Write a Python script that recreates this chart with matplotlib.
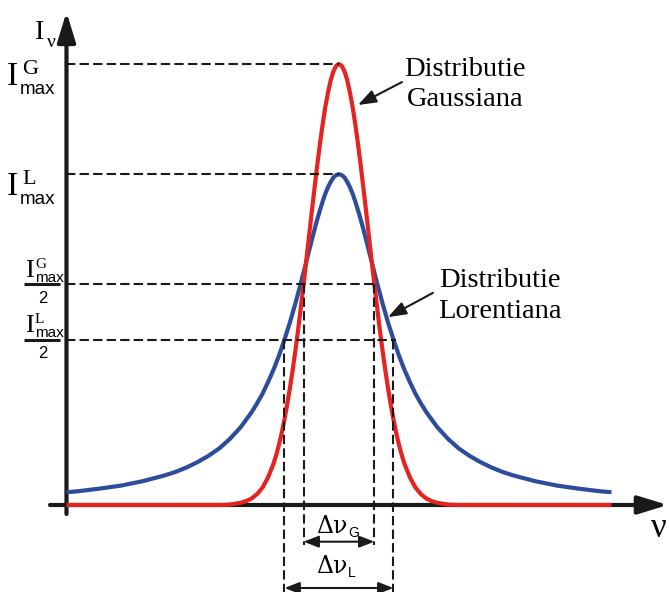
import matplotlib
matplotlib.use("Agg")
import matplotlib.pyplot as plt

# ---------------- data ----------------
# frequency axis in units of the Lorentzian FWHM, intensity in units of I_max^G
nu_gauss = [-2.5, -1.1, -1.0, -0.9, -0.85, -0.8, -0.75, -0.7, -0.65, -0.6,
            -0.575, -0.55, -0.525, -0.5, -0.475, -0.45, -0.425, -0.4, -0.375, -0.35,
            -0.325, -0.3, -0.275, -0.25, -0.225, -0.2, -0.175, -0.15, -0.125, -0.1,
            -0.075, -0.05, -0.025, 0.0,
            0.025, 0.05, 0.075,
            0.1, 0.125, 0.15, 0.175, 0.2, 0.225, 0.25, 0.275, 0.3, 0.325,
            0.35, 0.375, 0.4, 0.425, 0.45, 0.475, 0.5, 0.525, 0.55, 0.575,
            0.6, 0.65, 0.7, 0.75, 0.8, 0.85, 0.9, 1.0, 1.1, 2.5]
I_gauss = [0.0, 0.0, 0.001, 0.005, 0.009, 0.015, 0.025, 0.040, 0.063, 0.094,
           0.114, 0.137, 0.164, 0.194, 0.228, 0.265, 0.306, 0.350, 0.397, 0.448,
           0.500, 0.554, 0.609, 0.664, 0.717, 0.769, 0.818, 0.863, 0.903, 0.936,
           0.964, 0.984, 0.996, 1.000,
           0.996, 0.984, 0.964,
           0.936, 0.903, 0.863, 0.818, 0.769, 0.717, 0.664, 0.609, 0.554, 0.500,
           0.448, 0.397, 0.350, 0.306, 0.265, 0.228, 0.194, 0.164, 0.137, 0.114,
           0.094, 0.063, 0.040, 0.025, 0.015, 0.009, 0.005, 0.001, 0.0, 0.0]

nu_lorentz = [-2.5, -2.4, -2.2, -2.0, -1.8, -1.6, -1.5, -1.4, -1.3, -1.2,
              -1.1, -1.0, -0.9, -0.8, -0.75, -0.7, -0.65, -0.6, -0.55, -0.5,
              -0.45, -0.4, -0.35, -0.3, -0.275, -0.25, -0.225, -0.2, -0.175, -0.15,
              -0.125, -0.1, -0.075, -0.05, -0.025, 0.0,
              0.025, 0.05, 0.075, 0.1, 0.125,
              0.15, 0.175, 0.2, 0.225, 0.25, 0.275, 0.3, 0.35, 0.4, 0.45,
              0.5, 0.55, 0.6, 0.65, 0.7, 0.75, 0.8, 0.9, 1.0, 1.1,
              1.2, 1.3, 1.4, 1.5, 1.6, 1.8, 2.0, 2.2, 2.4, 2.5]
I_lorentz = [0.029, 0.031, 0.037, 0.044, 0.054, 0.067, 0.075, 0.085, 0.097, 0.111,
             0.128, 0.150, 0.177, 0.211, 0.231, 0.253, 0.279, 0.307, 0.339, 0.375,
             0.414, 0.457, 0.503, 0.551, 0.576, 0.600, 0.624, 0.647, 0.668, 0.688,
             0.706, 0.721, 0.733, 0.743, 0.748, 0.750,
             0.748, 0.743, 0.733, 0.721, 0.706,
             0.688, 0.668, 0.647, 0.624, 0.600, 0.576, 0.551, 0.503, 0.457, 0.414,
             0.375, 0.339, 0.307, 0.279, 0.253, 0.231, 0.211, 0.177, 0.150, 0.128,
             0.111, 0.097, 0.085, 0.075, 0.067, 0.054, 0.044, 0.037, 0.031, 0.029]

I_max_G = 1.0
I_max_L = 0.75
half_width_G = [-0.325, 0.325]   # FWHM edges of the Gaussian
half_width_L = [-0.5, 0.5]       # FWHM edges of the Lorentzian

label_distrib = "Distributie"
label_gauss = "Gaussiana"
label_lorentz = "Lorentiana"

# ---------------- style ----------------
SERIF = "Liberation Serif"
SANS = "Liberation Sans"
RED = "#e52421"
BLUE = "#2d4c9c"
BLACK = "#1a1a1a"
DASH = dict(color=BLACK, lw=1.5, linestyle=(0, (4.5, 2.0)), zorder=4)

fig = plt.figure(figsize=(6.69, 5.92), dpi=100)
ax = fig.add_axes([0, 0, 1, 1])
ax.set_xlim(-3.110, 3.028)
ax.set_ylim(-0.1973, 1.1451)
ax.axis("off")

x_axis_pos = nu_gauss[0]  # the y-axis sits where the curves start

# axes with arrows
axis_arrow = dict(arrowstyle="-|>,head_length=1.8,head_width=0.55",
                  mutation_scale=10, lw=3, color=BLACK, shrinkA=0, shrinkB=0)
ax.annotate("", xy=(x_axis_pos, 1.118), xytext=(x_axis_pos, -0.0204),
            arrowprops=axis_arrow, zorder=2)
ax.annotate("", xy=(3.018, 0), xytext=(-2.651, 0), arrowprops=axis_arrow, zorder=2)

# curves
ax.plot(nu_lorentz, I_lorentz, color=BLUE, lw=3, zorder=3, solid_capstyle="butt",
        solid_joinstyle="round")
ax.plot(nu_gauss, I_gauss, color=RED, lw=3, zorder=3, solid_capstyle="butt",
        solid_joinstyle="round")

# dashed guides
ax.plot([x_axis_pos, 0.0], [I_max_G, I_max_G], **DASH)
ax.plot([x_axis_pos, 0.0], [I_max_L, I_max_L], **DASH)
ax.plot([x_axis_pos, half_width_G[1] + 0.005], [I_max_G / 2] * 2, **DASH)
ax.plot([x_axis_pos, half_width_L[1] + 0.02], [I_max_L / 2] * 2, **DASH)
for xv in half_width_G:
    ax.plot([xv, xv], [I_max_G / 2, -0.0907], **DASH)
for xv in half_width_L:
    ax.plot([xv, xv], [I_max_L / 2, -0.1973], **DASH)

# width arrows
dbl = dict(arrowstyle="<|-|>,head_length=0.9,head_width=0.35", mutation_scale=10,
           lw=1.5, color=BLACK, shrinkA=0, shrinkB=0)
ax.annotate("", xy=(half_width_G[0], -0.0832), xytext=(half_width_G[1], -0.0832),
            arrowprops=dbl, zorder=5)
ax.annotate("", xy=(half_width_L[0], -0.1882), xytext=(half_width_L[1], -0.1882),
            arrowprops=dbl, zorder=5)


def label_with_sub(x, y, main, sub, size_main, size_sub, dy_sub):
    t = ax.text(x, y, main, fontsize=size_main, family="DejaVu Serif",
                ha="left", va="baseline")
    ax.annotate(sub, xy=(1.0, 0.0), xycoords=t, xytext=(0.3, dy_sub),
                textcoords="offset points", fontsize=size_sub, family=SANS,
                ha="left", va="bottom")


label_with_sub(-0.21, -0.0635, "\u0394\u03bd", "G", 17, 10, -1.8)
label_with_sub(-0.21, -0.1542, "\u0394\u03bd", "L", 17, 10, -1.8)

# axis labels
ax.text(-2.789, 1.0567, "I", fontsize=20, family=SERIF, ha="left", va="baseline")
ax.text(-2.679, 1.0385, "\u03bd", fontsize=14, family=SERIF, ha="left", va="baseline")
ax.text(2.936, -0.0726, "\u03bd", fontsize=25, family=SERIF, ha="center",
        va="baseline")

# peak labels
for val, sup in [(I_max_G, "G"), (I_max_L, "L")]:
    ax.text(-3.046, val - 0.048, "I", fontsize=24, family=SERIF, ha="left",
            va="baseline")
    ax.text(-2.908, val - 0.0227, sup, fontsize=16, family=SERIF, ha="left",
            va="baseline")
    ax.text(-2.927, val - 0.068, "max", fontsize=13.5, family=SANS, ha="left",
            va="baseline")

# half-maximum fraction labels
for val, sup in [(I_max_G / 2, "G"), (I_max_L / 2, "L")]:
    ax.text(-2.881, val + 0.017, "I", fontsize=19, family=SERIF, ha="left",
            va="baseline")
    ax.text(-2.789, val + 0.0374, sup, fontsize=11, family=SERIF, ha="left",
            va="baseline")
    ax.text(-2.789, val + 0.0057, "max", fontsize=11, family=SANS, ha="left",
            va="baseline")
    ax.plot([-2.890, -2.560], [val, val], color=BLACK, lw=2.2, zorder=4,
            solid_capstyle="butt")
    ax.text(-2.716, val - 0.042, "2", fontsize=12, family=SANS,
            ha="center", va="baseline")

# curve annotations
ax.text(1.156, 0.973, label_distrib, fontsize=20.5, family=SERIF,
        ha="center", va="baseline")
ax.text(1.156, 0.905, label_gauss, fontsize=20.5, family=SERIF,
        ha="center", va="baseline")
ax.text(1.477, 0.494, label_distrib, fontsize=20.5, family=SERIF,
        ha="center", va="baseline")
ax.text(1.477, 0.424, label_lorentz, fontsize=20.5, family=SERIF,
        ha="center", va="baseline")

ptr = dict(arrowstyle="-|>,head_length=1.1,head_width=0.4", mutation_scale=10,
           lw=1.5, color=BLACK, shrinkA=0, shrinkB=0)
ax.annotate("", xy=(0.174, 0.907), xytext=(0.578, 0.959), arrowprops=ptr, zorder=5)
ax.annotate("", xy=(0.450, 0.426), xytext=(0.862, 0.481), arrowprops=ptr, zorder=5)

fig.savefig("out.png", dpi=100)
